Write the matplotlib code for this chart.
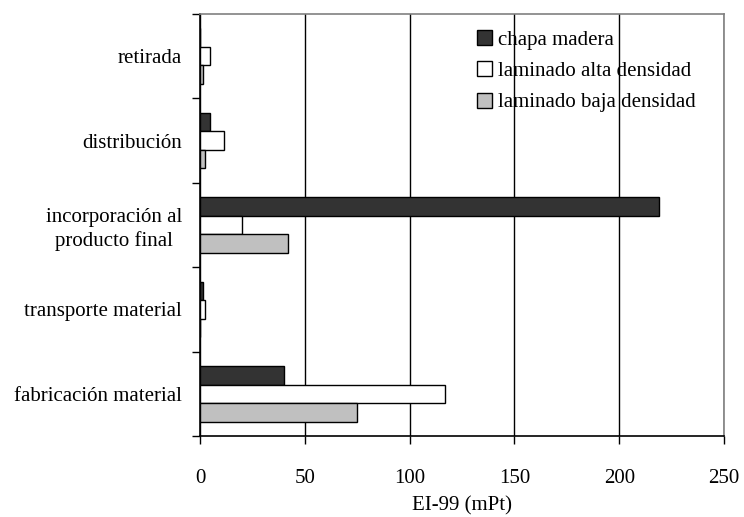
import matplotlib
matplotlib.use("Agg")
import matplotlib.pyplot as plt
import numpy as np

categories = ["fabricación material", "transporte material",
              "incorporación al\nproducto final", "distribución", "retirada"]
series_names = ["chapa madera", "laminado alta densidad", "laminado baja densidad"]
chapa_madera = [40, 1.5, 219, 5, 0]
laminado_alta = [117, 2.4, 20, 11.6, 5]
laminado_baja = [75, 0, 42, 2.4, 1.3]
x_ticks = [0, 50, 100, 150, 200, 250]

plt.rcParams["font.family"] = ["Liberation Serif", "DejaVu Serif"]
FS = 15

fig = plt.figure(figsize=(7.44, 5.17), dpi=100)
ax = fig.add_axes([200 / 744, 1 - 436 / 517, 524 / 744, 422 / 517])

colors = ["#333333", "#ffffff", "#c0c0c0"]
h = 0.22
y = np.arange(len(categories))
offsets = [h, 0, -h]
for vals, name, c, off in zip([chapa_madera, laminado_alta, laminado_baja],
                              series_names, colors, offsets):
    ax.barh(y + off, vals, height=h, color=c, edgecolor="black",
            linewidth=1.0, label=name, zorder=3)

ax.set_xlim(0, 250)
ax.set_ylim(-0.5, len(categories) - 0.5)
ax.set_xticks(x_ticks)
ax.set_xticklabels([str(v) for v in x_ticks], fontsize=FS)
ax.xaxis.grid(True, color="black", linewidth=1.0, zorder=0)
ax.set_axisbelow(True)

ax.set_yticks(np.arange(-0.5, len(categories), 1.0))
ax.set_yticklabels([])
ax.set_yticks(y, minor=True)
ax.set_yticklabels(categories, minor=True, fontsize=FS, ha="right",
                   multialignment="center", linespacing=1.3)
ax.tick_params(axis="y", which="major", direction="out", length=6, width=1, color="black")
ax.tick_params(axis="y", which="minor", length=0, pad=13)
ax.tick_params(axis="x", direction="out", length=6, width=1, pad=18)

for s in ["left", "bottom"]:
    ax.spines[s].set_color("black")
    ax.spines[s].set_linewidth(1.2)
for s in ["top", "right"]:
    ax.spines[s].set_color("#808080")
    ax.spines[s].set_linewidth(1.2)

ax.set_xlabel("EI-99 (mPt)", fontsize=FS, labelpad=6)

leg = ax.legend(loc="upper left", bbox_to_anchor=((477 - 200) / 524, (436 - 30) / 422),
                frameon=False, fontsize=FS, handlelength=0.72, handleheight=0.72,
                handletextpad=0.3, labelspacing=0.56, borderaxespad=0, borderpad=0)

fig.savefig("out.png", dpi=100)
